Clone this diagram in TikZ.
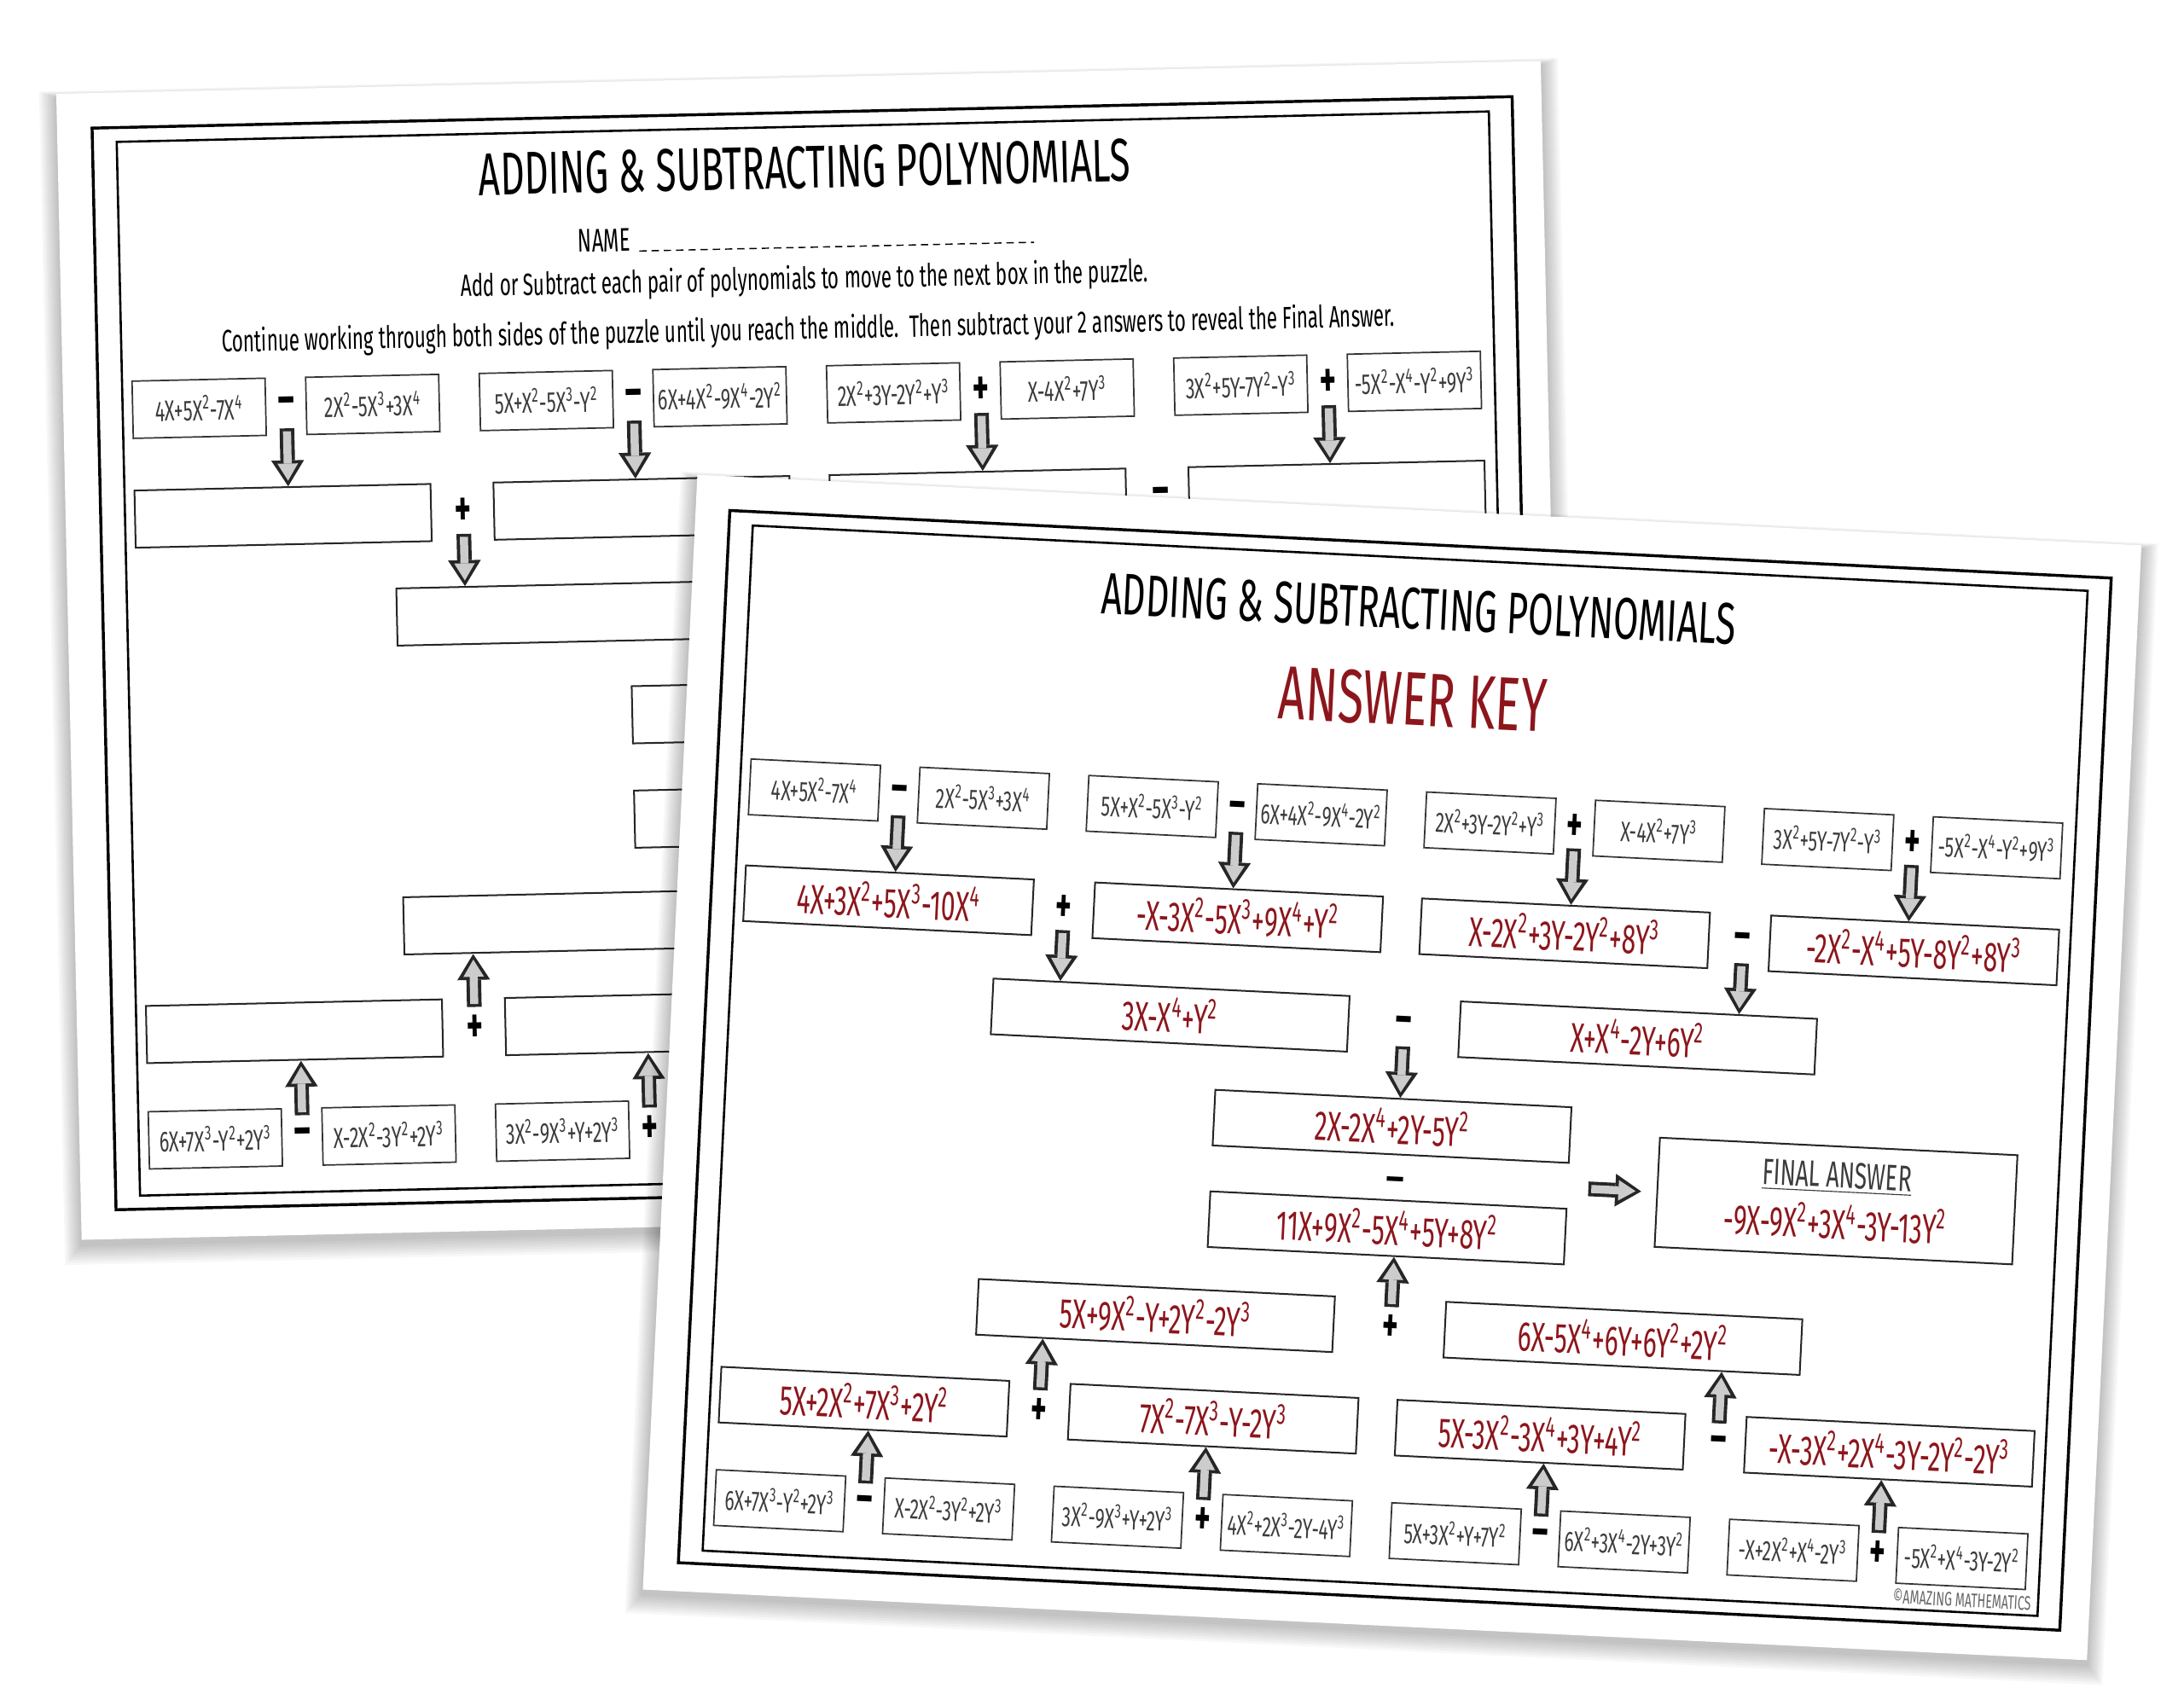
\documentclass[tikz,border=0pt]{standalone}
\usepackage{fontspec}
\setmainfont{Fira Sans}[FakeStretch=0.62]
\newfontfamily\qfont{Fira Sans}[FakeStretch=0.64]
\usetikzlibrary{arrows.meta, calc, positioning}
\definecolor{keyred}{RGB}{140,22,28}
\definecolor{qgray}{RGB}{60,60,60}

\newcommand{\pw}[1]{\textsuperscript{#1}}
\newcommand{\ans}[1]{#1}
\newcommand{\backcut}{9}
\newcommand{\godown}[2]{\draw[fat] (#1.south) -- ($(#2.north west)!(#1.south)!(#2.north east)$);}
\newcommand{\goup}[2]{\draw[fat] (#1.north) -- ($(#2.south west)!(#1.north)!(#2.south east)$);}

\tikzset{
  qbox/.style={draw=black!80, line width=0.6pt, fill=white, minimum width=18.6mm, minimum height=8mm, inner sep=0pt, text=qgray, font=\qfont\fontsize{11.5}{13}\selectfont},
  abox/.style={draw=black!85, line width=0.7pt, fill=white, minimum height=8mm, inner sep=0pt, text=keyred, font=\fontsize{17}{19}\selectfont},
  midbox/.style={abox, minimum width=41.4mm},
  widebox/.style={abox, minimum width=51.2mm},
  opsign/.style={minimum height=6mm, inner sep=0pt, font=\fontsize{20}{20}\selectfont\bfseries},
  fat/.style={draw=gray!40, line width=3.3pt, -{Triangle[length=7pt, width=8.4pt, line width=0pt]}, shorten >=2.3pt, shorten <=1.2pt,
    preaction={draw=black!85, line width=6pt, -{Triangle[length=10.6pt, width=13.4pt, line width=0pt]}, shorten >=0pt, shorten <=0pt}},
}

% one worksheet, drawn in its own frame
\newcommand{\puzzle}{%
  \foreach \k in {1,...,8}
    \fill[black, opacity=0.03] (-\k*1.5, 3-\k*0.6) rectangle (1038+\k*1.5, 804.5+\k*1.8);
  \fill[white] (0,0) rectangle (1038,801.5);
  \draw[line width=1.2pt] (24.5,24.5) rectangle (1017.5,781);
  \draw[line width=0.9pt] (41.5,34.5) rectangle (1001,771.5);
  % questions
  \foreach \t [count=\i] in {4X+5X\pw2-7X\pw4, 2X\pw2-5X\pw3+3X\pw4, 5X+X\pw2-5X\pw3-Y\pw2, 6X+4X\pw2-9X\pw4-2Y\pw2, 2X\pw2+3Y-2Y\pw2+Y\pw3, X-4X\pw2+7Y\pw3, 3X\pw2+5Y-7Y\pw2-Y\pw3, -5X\pw2-X\pw4-Y\pw2+9Y\pw3}
    \node[qbox] (q\i) at ({95+121.4*(\i-1)},222) {\t};
  \foreach \t [count=\i] in {6X+7X\pw3-Y\pw2+2Y\pw3, X-2X\pw2-3Y\pw2+2Y\pw3, 3X\pw2-9X\pw3+Y+2Y\pw3, 4X\pw2+2X\pw3-2Y-4Y\pw3, 5X+3X\pw2+Y+7Y\pw2, 6X\pw2+3X\pw4-2Y+3Y\pw2, -X+2X\pw2+X\pw4-2Y\pw3, -5X\pw2+X\pw4-3Y-2Y\pw2}
    \node[qbox] (p\i) at ({95+121.4*(\i-1)},733) {\ifnum\i>\backcut\else\t\fi};
  \foreach \s [count=\i] in {--,--,+,+}
    \node[opsign] (o\i) at ({156+242.8*(\i-1)},222) {\s};
  \foreach \s [count=\i] in {--,+,--,+}
    \node[opsign] (b\i) at ({156+242.8*(\i-1)},733) {\ifnum\i>\backcut\else\s\fi};
  % answers
  \node[midbox] (a1) at (152,298.5) {\ans{4X+3X\pw2+5X\pw3-10X\pw4}};
  \node[midbox] (a2) at (403,298.5) {\ans{-X-3X\pw2-5X\pw3+9X\pw4+Y\pw2}};
  \node[midbox] (a3) at (638,298.5) {\ans{X-2X\pw2+3Y-2Y\pw2+8Y\pw3}};
  \node[midbox] (a4) at (889,298.5) {\ans{-2X\pw2-X\pw4+5Y-8Y\pw2+8Y\pw3}};
  \node[opsign] (r1) at (278,298.5) {+};
  \node[opsign] (r2) at (766,298.5) {--};
  \node[widebox] (e1) at (358,371) {\ans{3X-X\pw4+Y\pw2}};
  \node[widebox] (e2) at (694,371) {\ans{X+X\pw4-2Y+6Y\pw2}};
  \node[opsign] (m1) at (526,370) {\ans{--}};
  \node[widebox] (g) at (521,443) {\ans{2X-2X\pw4+2Y-5Y\pw2}};
  \node[opsign, font=\fontsize{15}{15}\selectfont\bfseries] (m2) at (525,484) {\ans{\scalebox{1.5}[1]{--}}};
  \node[widebox] (h) at (521,516) {\ans{11X+9X\pw2-5X\pw4+5Y+8Y\pw2}};
  \node[abox, minimum width=51.4mm, minimum height=15.7mm, align=center] (fin) at (842,481)
    {\ans{{\color{qgray}\fontsize{15}{17}\selectfont\underline{FINAL ANSWER}}\\[2pt] -9X-9X\pw2+3X\pw4-3Y-13Y\pw2}};
  \node[widebox] (i1) at (358,587) {\ans{5X+9X\pw2-Y+2Y\pw2-2Y\pw3}};
  \node[widebox] (i2) at (694,587) {\ans{6X-5X\pw4+6Y+6Y\pw2+2Y\pw2}};
  \node[opsign] (m3) at (527,588) {\ans{+}};
  \node[midbox] (k1) at (152,659) {\ans{5X+2X\pw2+7X\pw3+2Y\pw2}};
  \node[midbox] (k2) at (403,659) {\ans{7X\pw2-7X\pw3-Y-2Y\pw3}};
  \node[midbox] (k3) at (638,659) {\ans{5X-3X\pw2-3X\pw4+3Y+4Y\pw2}};
  \node[midbox] (k4) at (889,659) {\ans{-X-3X\pw2+2X\pw4-3Y-2Y\pw2-2Y\pw3}};
  \node[opsign] (s1) at (278,660) {+};
  \node[opsign] (s2) at (766,660) {\ans{--}};
  % arrows
  \foreach \i in {1,...,4} {\godown{o\i}{a\i} \goup{b\i}{k\i}}
  \godown{r1}{e1} \godown{r2}{e2} \godown{m1}{g}
  \goup{s1}{i1} \goup{s2}{i2} \goup{m3}{h}
  \coordinate (fa) at (664,481);
  \coordinate (fb) at (702,481);
  \draw[fat] (fa) -- (fb);
}

\begin{document}
\begin{tikzpicture}[x=0.2mm, y=-0.2mm]
  \useasboundingbox (0,0) rectangle (1568,1212);
  \fill[white] (0,0) rectangle (1568,1212);

  % blank worksheet behind (texts under the front sheet left out)
  \begin{scope}[shift={(40.4,67.4)}, rotate=1.27, scale=1.027, transform shape, name prefix=bk-]
    \def\ans#1{}
    \def\backcut{3}
    \puzzle
    \node[font=\fontsize{24}{26}\selectfont] (title) at (522,63) {ADDING \& SUBTRACTING POLYNOMIALS};
    \node[font=\fontsize{13}{15}\selectfont, anchor=east] (nm) at (405,111) {NAME};
    \draw[densely dashed, line width=0.5pt] (nm.base east) -- ++(276,0);
    \node[font=\fontsize{12.3}{14}\selectfont] (in1) at (520,142) {Add or Subtract each pair of polynomials to move to the next box in the puzzle.};
    \node[font=\fontsize{12.3}{14}\selectfont] (in2) at (522,177) {Continue working through both sides of the puzzle until you reach the middle.\ \ Then subtract your 2 answers to reveal the Final Answer.};
  \end{scope}

  % answer key in front
  \begin{scope}[shift={(500.7,340.9)}, rotate=-2.8, transform shape, name prefix=fr-]
    \puzzle
    \node[font=\fontsize{24}{26}\selectfont] (title) at (522,71) {ADDING \& SUBTRACTING POLYNOMIALS};
    \node[text=keyred, font=\fontsize{31}{33}\selectfont] (key) at (521,136) {ANSWER KEY};
    \node[text=black!60, font=\fontsize{8}{9}\selectfont, anchor=south east, inner sep=1pt] (copy) at (998,770) {\copyright AMAZING MATHEMATICS};
  \end{scope}
\end{tikzpicture}
\end{document}
